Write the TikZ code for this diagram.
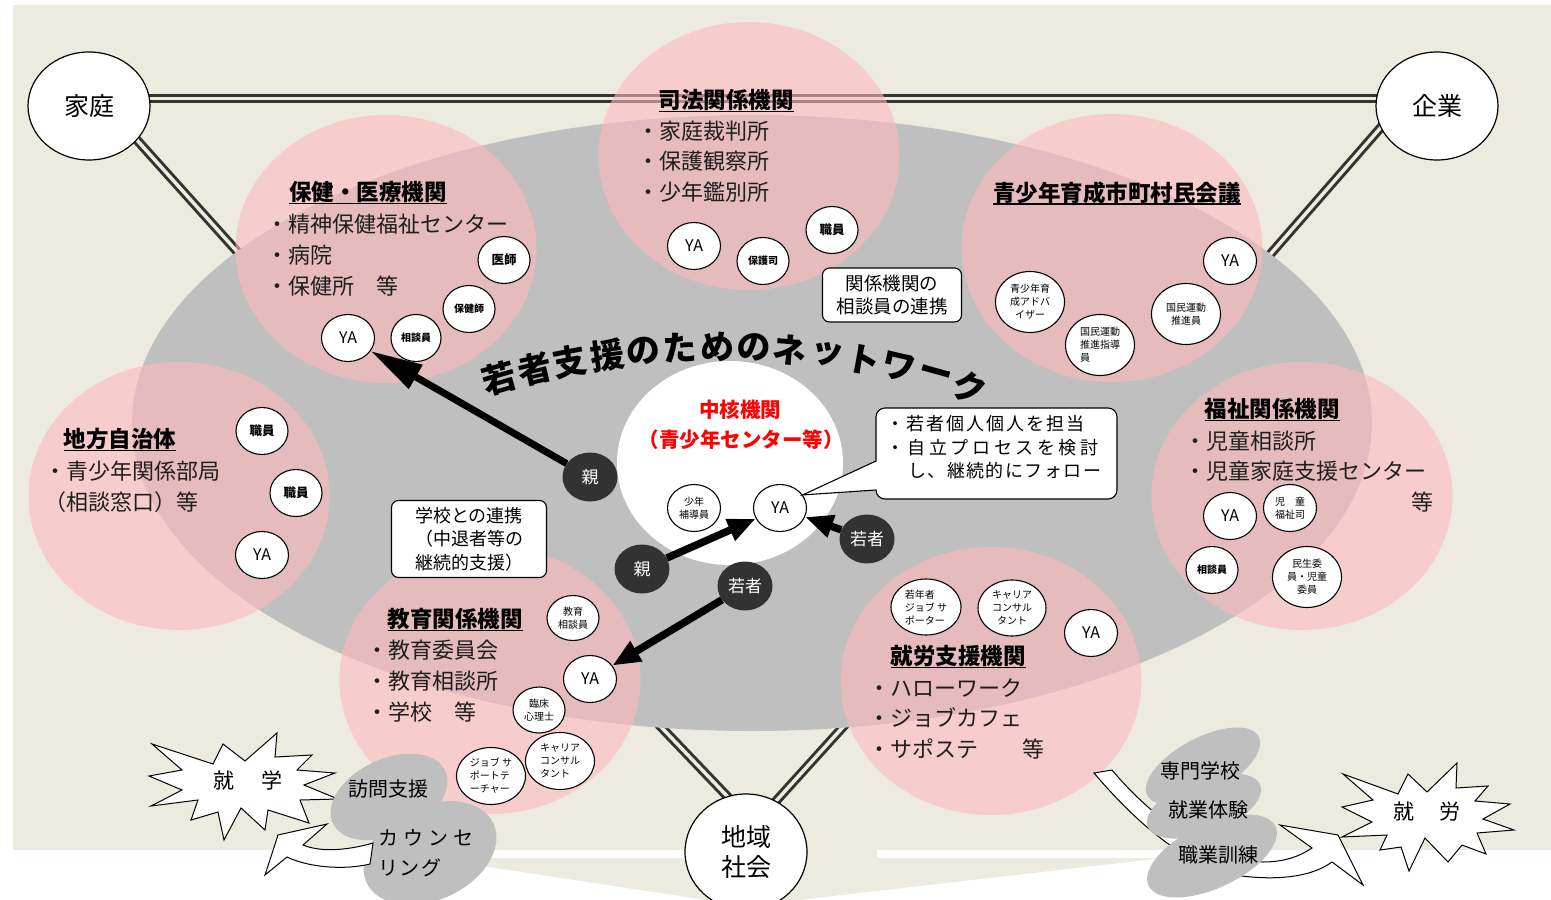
\documentclass[tikz,border=0pt]{standalone}
\usepackage{fontspec}
\newfontfamily\jp{Noto Sans CJK JP}
\usetikzlibrary{shapes.geometric,arrows.meta,calc}
\definecolor{beige}{RGB}{237,235,224}
\definecolor{ngray}{RGB}{191,191,191}
\definecolor{darkc}{RGB}{50,50,50}
\definecolor{pinkc}{RGB}{255,185,190}
\definecolor{linec}{RGB}{51,51,51}
\definecolor{txt}{RGB}{30,30,30}
\pgfdeclarelayer{back}
\pgfdeclarelayer{lines}
\pgfsetlayers{back,lines,main}
\newcommand\hul[1]{\setbox0=\hbox{#1}\copy0\llap{\rule[-3.5pt]{\wd0}{1.6pt}}}
\tikzset{
 dbl/.style={draw=linec, line width=3pt, double=beige, double distance=3.5pt},
 pinkzone/.style={ellipse, fill=pinkc, fill opacity=0.6, minimum width=301pt, minimum height=268pt, inner sep=0pt},
 bigcirc/.style={ellipse, draw, line width=1.2pt, fill=white, minimum width=122pt, minimum height=108pt, inner sep=0pt, font=\jp\fontsize{25}{30}\selectfont, align=center},
 sm/.style={ellipse, draw, line width=1.1pt, fill=white, minimum width=52pt, minimum height=47pt, inner sep=0pt, font=\jp\bfseries\fontsize{12.5}{14}\selectfont, align=center},
 sml/.style={sm, font=\jp\bfseries\fontsize{10}{12}\selectfont},
 ya/.style={sm, minimum width=53pt, font=\jp\fontsize{16}{16}\selectfont},
 md/.style={sm, minimum width=69pt, minimum height=61pt, font=\jp\fontsize{10}{13}\selectfont},
 dkc/.style={ellipse, fill=darkc, minimum width=55pt, minimum height=49pt, inner sep=0pt, text=white, font=\jp\fontsize{17}{17}\selectfont},
 head/.style={font=\jp\bfseries\fontsize{22.5}{22.5}\selectfont, inner sep=0pt},
 item/.style={font=\jp\fontsize{22}{22}\selectfont, text=txt, anchor=west, inner sep=0pt},
 titlech/.style={font=\jp\bfseries\fontsize{34}{34}\selectfont, inner sep=0pt},
 boxst/.style={draw, line width=1.1pt, fill=white, rounded corners=7pt, align=center, inner sep=0pt},
 arrowA/.style={line width=7pt, -{Triangle[length=52pt,width=26pt]}},
 arrowB/.style={line width=7.5pt, -{Triangle[length=28pt,width=22pt]}},
 blob/.style={ellipse, fill=ngray, inner sep=0pt},
 blobtxt/.style={font=\jp\fontsize{20}{20}\selectfont, inner sep=0pt},
 shapeline/.style={draw, line width=1pt, fill=white},
}
\begin{document}
\begin{tikzpicture}[x=1pt,y=-1pt]
\useasboundingbox (0,0) rectangle (1551,900);
\begin{pgfonlayer}{back}
 \fill[white] (0,0) rectangle (1551,900);
 \fill[beige] (13,5) rectangle (1551,850);
 \fill[beige] (430,858) -- (1163,858) -- (746,906) -- cycle;
 \fill[beige] (746,849) rectangle (877,859);
\end{pgfonlayer}

% network area
\node[ellipse, fill=ngray, minimum width=1240pt, minimum height=616pt, inner sep=0pt] (net) at (752,423) {};

% pink zones
\node[pinkzone] (zH) at (386,249) {};
\node[pinkzone] (zS) at (749,156) {};
\node[pinkzone] (zY) at (1112,248) {};
\node[pinkzone] (zC) at (179,496) {};
\node[pinkzone] (zF) at (1302,496) {};
\node[pinkzone] (zE) at (490,680) {};
\node[pinkzone] (zJ) at (991,681) {};

% corner nodes
\node[bigcirc] (katei) at (89,106) {家庭};
\node[bigcirc] (kigyo) at (1437,106) {企業};
\node[bigcirc, minimum height=116pt] (chiiki) at (746,852) {地域\\社会};

\coordinate (kL) at (330,355);
\coordinate (kR) at (1172,367);
\coordinate (cL) at (600,663);
\coordinate (cR) at (900,664);
\begin{pgfonlayer}{lines}
 \draw[dbl] ([yshift=7.5pt]katei.center) -- ([yshift=7.5pt]kigyo.center);
 \draw[dbl] ([shift={(21,4)}]katei.center) -- (kL);
 \draw[dbl] ([shift={(-27,-12)}]kigyo.center) -- (kR);
 \draw[dbl] ([shift={(2,-34)}]chiiki.center) -- (cL);
 \draw[dbl] ([shift={(11,-30)}]chiiki.center) -- (cR);
\end{pgfonlayer}

% core
\node[ellipse, fill=white, minimum width=226pt, minimum height=204pt, inner sep=0pt] (core) at (730,463) {};
\node[font=\jp\bfseries\fontsize{20.5}{20.5}\selectfont, text=red, inner sep=0pt] (core1) at (740,410) {中核機関};
\node[font=\jp\bfseries\fontsize{20.5}{20.5}\selectfont, text=red, inner sep=0pt] (core2) at (741,440) {（青少年センター等）};

% title along an arc
\foreach \c/\a [count=\i] in {若/16.0,者/13.4,支/10.8,援/8.1,の/5.5,た/2.9,め/0.2,の/-2.4,ネ/-5.0,ッ/-7.7,ト/-10.3,ワ/-12.9,ー/-15.6,ク/-18.2}
  \node[titlech, rotate=\a] (tt\i) at ($(720,1147)+({-90-(\a)}:800)$) {\c};

% 保健・医療機関
\node[head] (hH) at (368,193) {\hul{保健・医療機関}};
\node[item] (hH1) at (266,224) {・精神保健福祉センター};
\node[item] (hH2) at (266,255) {・病院};
\node[item] (hH3) at (266,286) {・保健所　等};
\node[ya] (yaH) at (348,338) {YA};
\node[sm] (ishi) at (504,260) {医師};
\node[sml] (hokenshi) at (469,309) {保健師};
\node[sml, minimum width=50pt] (soudanH) at (416,338) {相談員};

% 司法関係機関
\node[head] (hS) at (726,101) {\hul{司法関係機関}};
\node[item] (hS1) at (637,131) {・家庭裁判所};
\node[item] (hS2) at (637,161) {・保護観察所};
\node[item] (hS3) at (637,192) {・少年鑑別所};
\node[ya] (yaS) at (694,246) {YA};
\node[sml] (hogoshi) at (763,261) {保護司};
\node[sm] (shokuinS) at (832,230) {職員};

% 青少年育成市町村民会議
\node[head] (hY) at (1117,193) {\hul{青少年育成市町村民会議}};
\node[ya] (yaY) at (1230,261) {YA};
\node[md] (adv) at (1030,302) {青少年育\\成アドバ\\イザー};
\node[md, align=left] (shido) at (1100,345) {国民運動\\推進指導\\員};
\node[md] (suishin) at (1186,314) {国民運動\\推進員};

% 地方自治体
\node[head] (hC) at (120,440) {\hul{地方自治体}};
\node[item] (hC1) at (44,471) {・青少年関係部局};
\node[item] (hC2) at (44,502) {（相談窓口）等};
\node[sm] (shokuinC1) at (262,431) {職員};
\node[sm] (shokuinC2) at (296,493) {職員};
\node[ya] (yaCh) at (262,555) {YA};

% 福祉関係機関
\node[head] (hF) at (1272,410) {\hul{福祉関係機関}};
\node[item] (hF1) at (1184,441) {・児童相談所};
\node[item] (hF2) at (1184,471) {・児童家庭支援センター};
\node[item, anchor=center] (hF3) at (1422,502) {等};
\node[ya] (yaF) at (1230,516) {YA};
\node[md, minimum width=53pt, minimum height=47pt] (fukushishi) at (1290,508) {児　童\\福祉司};
\node[sml] (soudanF) at (1212,570) {相談員};
\node[md] (minsei) at (1307,577) {民生委\\員・児童\\委員};

% 教育関係機関
\node[head] (hE) at (455,620) {\hul{教育関係機関}};
\node[item] (hE1) at (366,650) {・教育委員会};
\node[item] (hE2) at (366,681) {・教育相談所};
\node[item] (hE3) at (366,712) {・学校　等};
\node[md, minimum width=52pt, minimum height=45pt] (kyoikuS) at (573,618) {教育\\相談員};
\node[ya] (yaE) at (590,679) {YA};
\node[md, minimum width=52pt, minimum height=46pt] (rinsho) at (539,710) {臨床\\心理士};
\node[md, minimum height=57pt, align=left] (careerE) at (560,761) {キャリア\\コンサル\\タント};
\node[md, minimum height=57pt, align=left] (jst) at (491,776) {ジョブ サ\\ポートテ\\ーチャー};

% 就労支援機関
\node[head] (hJ) at (958,657) {\hul{就労支援機関}};
\node[item] (hJ1) at (868,688) {・ハローワーク};
\node[item] (hJ2) at (868,718) {・ジョブカフェ};
\node[item] (hJ3) at (868,749) {・サポステ　　等};
\node[md, minimum width=70pt, minimum height=56pt, align=left] (jakunen) at (926,607) {若年者\\ジョブ サ\\ポーター};
\node[md, minimum width=68pt, minimum height=56pt] (careerJ) at (1012,608) {キャリア\\コンサル\\タント};
\node[ya] (yaJ) at (1091,633) {YA};

% core members
\node[md, minimum width=53pt, minimum height=47pt] (hodo) at (694,508) {少年\\補導員};
\node[ya] (yaC) at (780,508) {YA};

% boxes
\node[boxst, minimum width=139pt, minimum height=54pt, font=\jp\fontsize{18.5}{23}\selectfont] (bx1) at (892,295) {関係機関の\\相談員の連携};
\node[boxst, minimum width=155pt, minimum height=77pt, font=\jp\fontsize{18}{23.5}\selectfont] (bx2) at (469,539) {学校との連携\\（中退者等の\\継続的支援）};

% callout
\draw[line width=1.1pt, fill=white, rounded corners=9pt] (876,461) -- (876,408) -- (1117,408) -- (1117,499) -- (876,499) [sharp corners] -- (876,490) -- (yaC.30) -- cycle;
\node[font=\jp\fontsize{18}{18}\selectfont, anchor=west, inner sep=0pt] (cb1) at (886,424) {\addfontfeature{LetterSpace=11}・若者個人個人を担当};
\node[font=\jp\fontsize{18}{18}\selectfont, anchor=west, inner sep=0pt] (cb2) at (886,448) {\addfontfeature{LetterSpace=20}・自立プロセスを検討};
\node[font=\jp\fontsize{18}{18}\selectfont, anchor=west, inner sep=0pt] (cb3) at (908,471) {\addfontfeature{LetterSpace=8}し、継続的にフォロー};

% dark circles
\node[dkc] (oya1) at (590,477) {親};
\node[dkc] (oya2) at (642,569) {親};
\node[dkc] (wk1) at (867,539) {若者};
\node[dkc] (wk2) at (745,586) {若者};

% arrows
\draw[arrowA] (oya1) -- (yaH);
\draw[arrowB] (oya2) -- (yaC);
\draw[arrowB] (wk1) -- (yaC);
\draw[arrowB] (wk2) -- (yaE);

% left bottom: 就学
\draw[shapeline] (152,744) -- (213,764) -- (223,744) -- (245,761) -- (277,733) -- (275,757) -- (312,755) -- (297,770) -- (335,773) -- (304,785) -- (338,799) -- (300,800) -- (309,823) -- (268,810) -- (265,830) -- (241,808) -- (224,840) -- (218,812) -- (191,820) -- (198,800) -- (151,806) -- (182,790) -- (149,776) -- (182,770) -- cycle;
\node[font=\jp\fontsize{21}{21}\selectfont, inner sep=0pt] (shugaku) at (248,780) {就\hspace{27pt}学};
\node[blob, minimum width=124pt, minimum height=76pt, rotate=25] (bHomon) at (389,797) {};
\node[blob, minimum width=140pt, minimum height=94pt, rotate=25] (bCouns) at (430,853) {};
\node[blobtxt] (tHomon) at (388,789) {訪問支援};
\node[blobtxt, anchor=west] (tCouns1) at (378,838) {\addfontfeature{LetterSpace=25}カウンセ};
\node[blobtxt, anchor=west] (tCouns2) at (378,868) {\addfontfeature{LetterSpace=8}リング};
\draw[shapeline] (373,843) .. controls (345,851) and (320,852) .. (303,845) -- (327,824) -- (278,835) -- (265,875) -- (287,857) .. controls (310,868) and (345,870) .. (370,864) -- cycle;

% right bottom: 就労
\draw[shapeline] (1094,773) -- (1112,770) .. controls (1165,833) and (1225,862) .. (1263,862) .. controls (1285,862) and (1300,856) .. (1312,848) -- (1280,825) -- (1338,835) -- (1363,885) -- (1332,862) .. controls (1310,878) and (1275,880) .. (1242,876) .. controls (1195,870) and (1145,833) .. cycle;
\node[blob, minimum width=126pt, minimum height=56pt, rotate=28] (b1) at (1203,766) {};
\node[blob, minimum width=120pt, minimum height=54pt, rotate=20] (b2) at (1204,806) {};
\node[blob, minimum width=140pt, minimum height=64pt, rotate=25] (b3) at (1212,856) {};
\node[blobtxt] (tSenmon) at (1200,771) {専門学校};
\node[blobtxt] (tShugyo) at (1208,810) {就業体験};
\node[blobtxt] (tShokugyo) at (1218,855) {職業訓練};
\draw[shapeline] (1343,774) -- (1398,794) -- (1408,774) -- (1427,792) -- (1457,763) -- (1456,788) -- (1488,786) -- (1475,801) -- (1510,804) -- (1483,819) -- (1514,830) -- (1477,833) -- (1486,854) -- (1462,845) -- (1448,862) -- (1425,838) -- (1409,871) -- (1401,847) -- (1380,850) -- (1387,835) -- (1342,837) -- (1372,822) -- (1342,807) -- (1373,800) -- cycle;
\node[font=\jp\fontsize{21}{21}\selectfont, inner sep=0pt] (shuro) at (1427,812) {就\hspace{25pt}労};
\end{tikzpicture}
\end{document}
